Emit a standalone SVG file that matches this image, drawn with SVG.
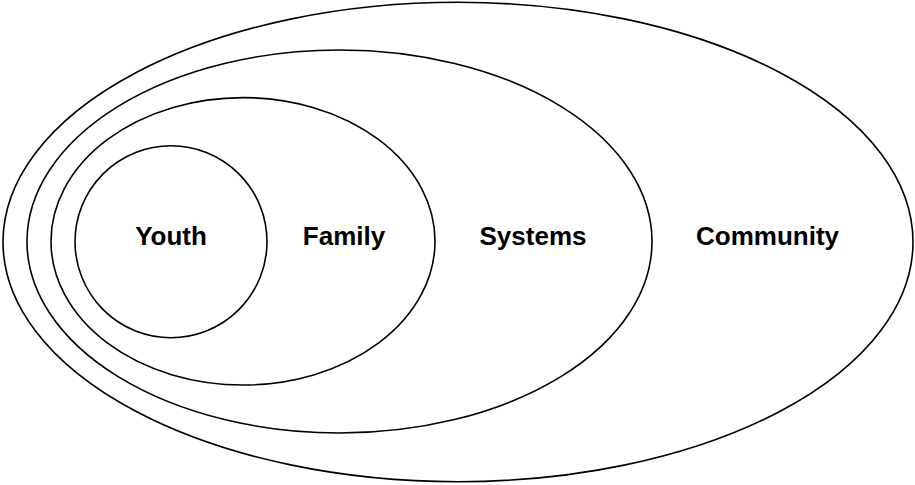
<svg xmlns="http://www.w3.org/2000/svg" width="915" height="485" viewBox="0 0 915 485">
<style>
.ring{fill:none;stroke:#000;stroke-width:1.6}
.lbl{font-family:"Liberation Sans",Arial,sans-serif;font-weight:bold;font-size:26px;fill:#000;text-anchor:middle}
</style>
<rect width="915" height="485" fill="#fff"/>
<g id="community">
<ellipse class="ring" cx="458" cy="242" rx="455" ry="239.7"/>
<text class="lbl" x="767.5" y="245">Community</text>
</g>
<g id="systems">
<ellipse class="ring" cx="339.5" cy="241.5" rx="312.5" ry="191.5"/>
<text class="lbl" x="533" y="245">Systems</text>
</g>
<g id="family">
<ellipse class="ring" cx="243" cy="241.3" rx="192" ry="143.7"/>
<text class="lbl" x="344" y="245">Family</text>
</g>
<g id="youth">
<ellipse class="ring" cx="171" cy="241.7" rx="96" ry="96"/>
<text class="lbl" x="171" y="245">Youth</text>
</g>
<g id="connectors"/>
</svg>
